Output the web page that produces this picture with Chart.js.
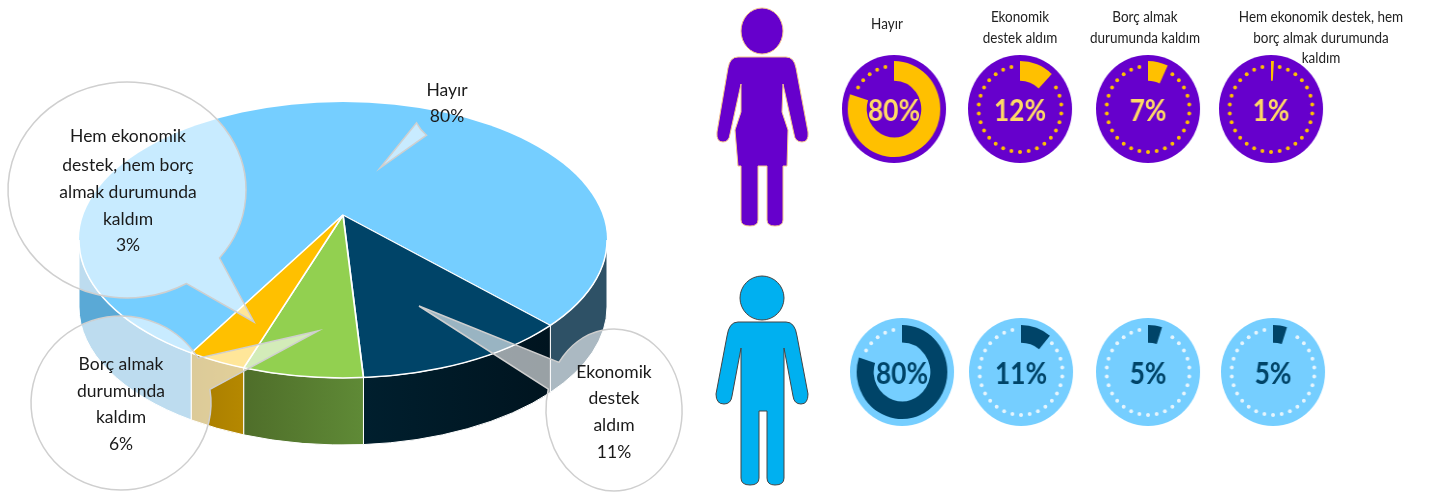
<!DOCTYPE html>
<html lang="tr">
<head>
<meta charset="utf-8">
<title>Ekonomik destek</title>
<script src="https://cdn.jsdelivr.net/npm/chart.js@4"></script>
<style>
    html, body { margin: 0; padding: 0; background: #fff; }
    #page { position: relative; width: 1433px; height: 494px; overflow: hidden; font-family: Lato, sans-serif; }
    canvas { position: absolute; }
    svg { position: absolute; left: 0; top: 0; }
    .title { position: absolute; width: 220px; margin-left: -110px; text-align: center; font-size: 14.5px; line-height: 20.5px; color: #222; transform: scaleX(0.93); }
</style>
</head>
<body>
<div id="page">
    <canvas id="pie" width="700" height="494" style="left:0;top:0;width:700px;height:494px"></canvas>

    <svg width="1433" height="494">
        <!-- kadin -->
        <g fill="#6600CC" stroke="#F4C48C" stroke-width="1">
            <ellipse cx="762" cy="31" rx="21" ry="23"/>
            <path d="M738 57 H786 Q794 57 796 68 L808 132 Q809 142 802 142 Q795 142 794 134 L783 84 L782 112 L788 130 L787 166 H783 V220 Q783 226 775 226 Q767 226 767 220 V166 H758 V220 Q758 226 750 226 Q741 226 741 220 V166 H738 L735 130 L741 112 L741 84 L730 134 Q729 142 723 142 Q716 142 717 132 L728 68 Q730 57 738 57 Z"/>
        </g>
        <!-- erkek -->
        <g fill="#00B0F0" stroke="#444" stroke-width="1">
            <ellipse cx="762" cy="298" rx="22" ry="22"/>
            <path d="M738 322 H786 Q795 322 797 336 L808 394 Q808 404 801 404 Q794 404 793 396 L784 348 V478 Q784 485 775 485 Q767 485 767 478 V411 H759 V478 Q759 485 750 485 Q741 485 741 478 V348 L732 396 Q731 404 724 404 Q716 404 716 394 L727 336 Q729 322 738 322 Z"/>
        </g>
    </svg>

    <canvas id="f0" width="112" height="112" style="left:840px;top:53px;width:108px;height:112px"></canvas>
    <canvas id="f1" width="112" height="112" style="left:966px;top:53px;width:108px;height:112px"></canvas>
    <canvas id="f2" width="112" height="112" style="left:1094px;top:53px;width:108px;height:112px"></canvas>
    <canvas id="f3" width="112" height="112" style="left:1217px;top:53px;width:108px;height:112px"></canvas>
    <canvas id="m0" width="112" height="112" style="left:848px;top:316px;width:108px;height:112px"></canvas>
    <canvas id="m1" width="112" height="112" style="left:967px;top:316px;width:108px;height:112px"></canvas>
    <canvas id="m2" width="112" height="112" style="left:1094px;top:316px;width:108px;height:112px"></canvas>
    <canvas id="m3" width="112" height="112" style="left:1219px;top:316px;width:108px;height:112px"></canvas>

    <div class="title" style="left:887px;top:14px">Hayır</div>
    <div class="title" style="left:1020px;top:7px">Ekonomik<br>destek aldım</div>
    <div class="title" style="left:1145px;top:7px">Borç almak<br>durumunda kaldım</div>
    <div class="title" style="left:1321px;top:7px">Hem ekonomik destek, hem<br>borç almak durumunda<br>kaldım</div>
</div>

<script>
// veriler
const categories = ['Hayır', 'Ekonomik destek aldım', 'Borç almak durumunda kaldım', 'Hem ekonomik destek, hem borç almak durumunda kaldım'];
const totalValues = [80, 11, 6, 3];
const femaleValues = [80, 12, 7, 1];
const maleValues = [80, 11, 5, 5];

const topColors = ['#75CEFF', '#004468', '#92D050', '#FFC000'];
const wallColors = [['#5AA9D6', '#2E5166'], ['#00141F', '#001F2E'], ['#5F8A36', '#4F6E2A'], ['#B58800', '#A87C00']];

// ust elips ve tepe noktasi (perspektif oldugu icin merkez elips ortasinda degil)
const ell = { cx: 343, cy: 240, rx: 264, ry: 138, depth: 67 };
const apex = { x: 343, y: 215, sx: 1.45, sy: 0.725 };

// konusma balonlari: kategori sirasiyla
const bubbles = [
    { cx: 447.5, cy: 100, rx: 36.5, ry: 43, a0: 125, a1: 148, tip: [380, 168], lines: ['Hayır'], tx: 447, ty: [90, 116] },
    { cx: 614, cy: 410, rx: 68, ry: 81, a0: 216, a1: 195, tip: [419, 306], lines: ['Ekonomik', 'destek', 'aldım'], tx: 614, ty: [372, 398, 425, 452] },
    { cx: 121, cy: 403, rx: 90, ry: 87, a0: -9, a1: -31, tip: [318, 331], lines: ['Borç almak', 'durumunda', 'kaldım'], tx: 121, ty: [364, 391, 417, 444] },
    { cx: 127, cy: 190, rx: 119, ry: 108, a0: 60, a1: 39, tip: [254, 322], lines: ['Hem ekonomik', 'destek, hem borç', 'almak durumunda', 'kaldım'], tx: 128, ty: [136, 165, 192, 219, 245] }
];

const rad = d => d * Math.PI / 180;

// tepe noktasindan cikan isinin elipsi kestigi yerin parametresi
function rimParam(angle) {
    const dx = apex.sx * Math.cos(angle) / ell.rx;
    const dy = apex.sy * Math.sin(angle) / ell.ry;
    const ox = (apex.x - ell.cx) / ell.rx;
    const oy = (apex.y - ell.cy) / ell.ry;
    const a = dx * dx + dy * dy;
    const b = 2 * (ox * dx + oy * dy);
    const c = ox * ox + oy * oy - 1;
    const k = (-b + Math.sqrt(b * b - 4 * a * c)) / (2 * a);
    return Math.atan2(oy + k * dy, ox + k * dx);
}

function drawWall(ctx, t0, t1, colors) {
    if (t1 <= t0) return;
    const x0 = ell.cx + ell.rx * Math.cos(t0);
    const x1 = ell.cx + ell.rx * Math.cos(t1);
    const grad = ctx.createLinearGradient(x0, 0, x1, 0);
    grad.addColorStop(0, colors[0]);
    grad.addColorStop(1, colors[1]);
    ctx.beginPath();
    ctx.ellipse(ell.cx, ell.cy, ell.rx, ell.ry, 0, t0, t1);
    ctx.ellipse(ell.cx, ell.cy + ell.depth, ell.rx, ell.ry, 0, t1, t0, true);
    ctx.closePath();
    ctx.fillStyle = grad;
    ctx.fill();
    ctx.strokeStyle = '#ffffff';
    ctx.lineWidth = 1;
    ctx.stroke();
}

const pie3d = {
    id: 'pie3d',
    beforeDatasetsDraw(chart) {
        const ctx = chart.ctx;
        const arcs = chart.getDatasetMeta(0).data;
        arcs.forEach((arc, i) => {
            let t0 = rimParam(arc.startAngle);
            let t1 = rimParam(arc.endAngle);
            if (t0 < 0) t0 += Math.PI * 2;
            if (t1 < 0) t1 += Math.PI * 2;
            if (t1 <= t0) t1 += Math.PI * 2;
            if (i === 0) {
                // Hayır dilimi arkadan dolasir, iki yanda gorunur
                drawWall(ctx, t0, Math.PI, [wallColors[0][0], wallColors[0][0]]);
                drawWall(ctx, 0, t1 - Math.PI * 2, [wallColors[0][1], wallColors[0][1]]);
            } else {
                drawWall(ctx, t0, Math.min(t1, Math.PI), wallColors[i]);
            }
        });
        const c = arcs[0];
        ctx.save();
        ctx.beginPath();
        ctx.ellipse(ell.cx, ell.cy, ell.rx, ell.ry, 0, 0, Math.PI * 2);
        ctx.clip();
        ctx.translate(apex.x, apex.y);
        ctx.scale(apex.sx, apex.sy);
        ctx.translate(-c.x, -c.y);
    },
    afterDatasetsDraw(chart) {
        const ctx = chart.ctx;
        ctx.restore();
        ctx.beginPath();
        ctx.ellipse(ell.cx, ell.cy, ell.rx, ell.ry, 0, 0, Math.PI);
        ctx.strokeStyle = '#ffffff';
        ctx.lineWidth = 1.5;
        ctx.stroke();
    },
    afterDraw(chart) {
        const ctx = chart.ctx;
        bubbles.forEach((b, i) => {
            ctx.beginPath();
            ctx.ellipse(b.cx, b.cy, b.rx, b.ry, 0, rad(b.a0), rad(b.a1 < b.a0 ? b.a1 + 360 : b.a1));
            ctx.lineTo(b.tip[0], b.tip[1]);
            ctx.closePath();
            ctx.fillStyle = 'rgba(255,255,255,0.6)';
            ctx.fill();
            ctx.strokeStyle = '#CFCFCF';
            ctx.lineWidth = 1.5;
            ctx.stroke();

            ctx.fillStyle = '#1a1a1a';
            ctx.font = '17.5px Lato, sans-serif';
            ctx.textAlign = 'center';
            ctx.textBaseline = 'middle';
            const rows = b.lines.concat(totalValues[i] + '%');
            rows.forEach((row, r) => ctx.fillText(row, b.tx, b.ty[r]));
        });
    }
};

new Chart(document.getElementById('pie'), {
    type: 'pie',
    data: {
        labels: categories,
        datasets: [{ data: totalValues, backgroundColor: topColors, borderColor: '#ffffff', borderWidth: 1.2 }]
    },
    options: {
        responsive: false,
        animation: false,
        devicePixelRatio: 1,
        rotation: 208.8,
        layout: { padding: 0 },
        plugins: { legend: { display: false }, tooltip: { enabled: false } }
    },
    plugins: [pie3d]
});

const gaugeFace = {
    id: 'gaugeFace',
    beforeDatasetsDraw(chart, args, opts) {
        const ctx = chart.ctx;
        const arc = chart.getDatasetMeta(0).data[0];
        ctx.beginPath();
        ctx.arc(arc.x, arc.y, 54, 0, Math.PI * 2);
        ctx.fillStyle = opts.face;
        ctx.fill();
    },
    afterDatasetsDraw(chart, args, opts) {
        const ctx = chart.ctx;
        const arc = chart.getDatasetMeta(0).data[0];
        const start = -Math.PI / 2;
        const shown = arc.endAngle - start;
        // kalan kisimda noktalar
        const step = Math.PI * 2 / 30;
        for (let i = 0; i < 30; i++) {
            const off = i * step;
            if (off < shown + 0.12 || off > Math.PI * 2 - 0.1) continue;
            ctx.beginPath();
            ctx.arc(arc.x + 43 * Math.cos(start + off), arc.y + 43 * Math.sin(start + off), 2, 0, Math.PI * 2);
            ctx.fillStyle = opts.dot;
            ctx.fill();
        }
        ctx.save();
        ctx.translate(arc.x, arc.y + 2);
        ctx.scale(0.88, 1);
        ctx.fillStyle = opts.text;
        ctx.font = '700 31px Lato, sans-serif';
        ctx.textAlign = 'center';
        ctx.textBaseline = 'middle';
        ctx.fillText(chart.data.datasets[0].data[0] + '%', 0, 0);
        ctx.restore();
    }
};

function makeGauge(id, value, arcColor, look) {
    new Chart(document.getElementById(id), {
        type: 'doughnut',
        data: {
            labels: ['pay', 'kalan'],
            datasets: [{ data: [value, 100 - value], backgroundColor: [arcColor, 'rgba(0,0,0,0)'], borderWidth: 0 }]
        },
        options: {
            responsive: false,
            animation: false,
            devicePixelRatio: 1,
            radius: look.outer,
            cutout: look.inner,
            plugins: { legend: { display: false }, tooltip: { enabled: false }, gaugeFace: look }
        },
        plugins: [gaugeFace]
    });
}

const femaleLook = { face: '#6600CC', dot: '#FFC000', text: '#FFD966', outer: 48, inner: 33 };
const maleLook = { face: '#75CEFF', dot: '#E6F5FD', text: '#004468', outer: 47, inner: 35 };

femaleValues.forEach((v, i) => makeGauge('f' + i, v, '#FFC000', femaleLook));
maleValues.forEach((v, i) => makeGauge('m' + i, v, '#004468', maleLook));
</script>
</body>
</html>
